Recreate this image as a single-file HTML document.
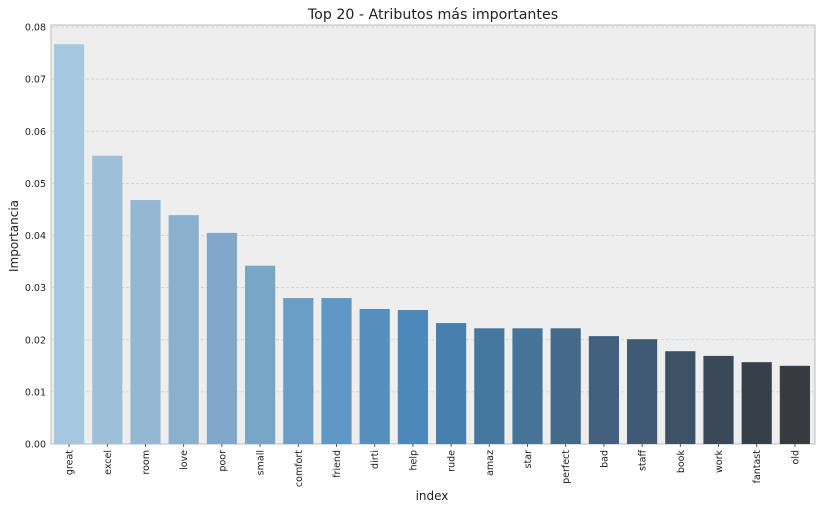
<!DOCTYPE html>
<html><head><meta charset="utf-8"><style>
body{margin:0;background:#fff;}
svg text{font-family:"DejaVu Sans","Liberation Sans",sans-serif;fill:#222;}
</style></head><body>
<svg id="chart" width="822" height="510" xmlns="http://www.w3.org/2000/svg">
<rect x="51" y="25" width="764" height="419" fill="#eeeeee" stroke="#bcbcbc" stroke-width="1"/>
<g id="grid"></g><g id="bars"></g><g id="axes"></g>
<text x="433" y="19" font-size="14.2" text-anchor="middle">Top 20 - Atributos más importantes</text>
<text x="432" y="500" font-size="12" text-anchor="middle">index</text>
<text transform="translate(18,236) rotate(-90)" font-size="12" text-anchor="middle">Importancia</text>
</svg>
<script>
const categories=["great","excel","room","love","poor","small","comfort","friend","dirti","help","rude","amaz","star","perfect","bad","staff","book","work","fantast","old"];
const values=[0.0767,0.0553,0.0468,0.0439,0.0405,0.0342,0.0280,0.0280,0.0259,0.0257,0.0232,0.0222,0.0222,0.0222,0.0207,0.0201,0.0178,0.0169,0.0157,0.0150];
const colors=["#a6c8de","#9dc0d8","#94b8d2","#8ab0ce","#81a8cb","#77a6c6","#6a9ec6","#5f98c4","#568fbc","#4d88ba","#4780ad","#45789e","#457498","#446a8a","#42617e","#3f5a72","#3c5265","#394958","#374049","#353b3e"];
const yTicks=[0,0.01,0.02,0.03,0.04,0.05,0.06,0.07,0.08];
const NS="http://www.w3.org/2000/svg";
const x0=50,x1=814,yb=444,yt=27,ymax=0.08;
const step=(x1-x0)/categories.length, bw=step*0.79;
function y(v){return yb-(v/ymax)*(yb-yt);}
function xc(i){return x0+step*(i+0.5);}
function mk(t,a,p){const e=document.createElementNS(NS,t);for(const k in a)e.setAttribute(k,a[k]);p.appendChild(e);return e;}
const grid=document.getElementById('grid'),bars=document.getElementById('bars'),axes=document.getElementById('axes');
yTicks.forEach(v=>{
 if(v>0){const g=mk('line',{x1:51,x2:815,y1:y(v),y2:y(v),stroke:'#cccccc','stroke-width':0.8,'stroke-dasharray':'3,2'},grid);
 
 }
 const t=mk('text',{x:46,y:y(v)+3.5,'font-size':9.5,'text-anchor':'end'},axes);t.textContent=v.toFixed(2);
 
 
});
categories.forEach((c,i)=>{
 const r=mk('rect',{x:xc(i)-bw/2,y:y(values[i]),width:bw,height:yb-y(values[i]),fill:colors[i]},bars);
 
 
 mk('line',{x1:xc(i),x2:xc(i),y1:yb,y2:yb+3,stroke:'#333','stroke-width':0.8},axes);
 const t=mk('text',{transform:`translate(${xc(i)+3.5},${yb+6}) rotate(-90)`,'font-size':9.5,'text-anchor':'end'},axes);t.textContent=c;
 
 
});
</script>
</body></html>
